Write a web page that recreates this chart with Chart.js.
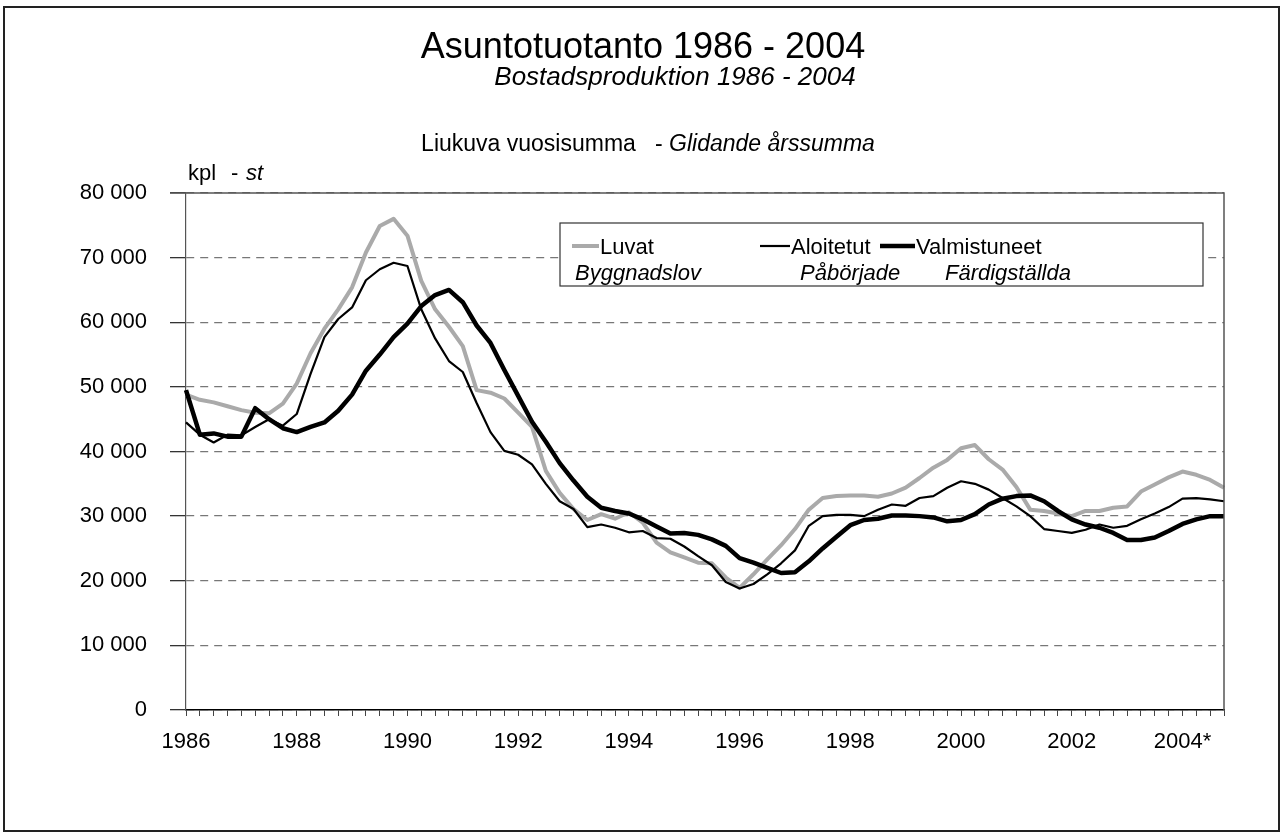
<!DOCTYPE html>
<html>
<head>
<meta charset="utf-8">
<script src="https://cdn.jsdelivr.net/npm/chart.js@4"></script>
<style>
  html, body { margin: 0; padding: 0; background: #fff; }
  canvas { display: block; }
</style>
</head>
<body>
<canvas id="housingChart" width="1284" height="837"></canvas>
<script>
// Quarterly moving annual sums, 1986 Q1 - 2004 Q4
var years = [1986, 1987, 1988, 1989, 1990, 1991, 1992, 1993, 1994, 1995,
             1996, 1997, 1998, 1999, 2000, 2001, 2002, 2003, 2004];
var tickLabels = ['1986', '1988', '1990', '1992', '1994', '1996', '1998', '2000', '2002', '2004*'];

var luvat = [
  48800, 48000, 47600, 47000, 46400, 46000, 45900, 47400,
  50500, 55200, 59000, 62000, 65400, 70800, 74900, 76000,
  73400, 66400, 62000, 59300, 56300, 49500, 49100, 48200,
  46000, 43800, 37000, 33600, 31100, 29400, 30300, 29600,
  30600, 29000, 25900, 24400, 23600, 22800, 22700, 20500,
  18900, 21000, 23300, 25500, 28000, 31000, 32800, 33100,
  33200, 33200, 33000, 33500, 34400, 35900, 37500, 38700,
  40500, 41000, 38800, 37200, 34500, 31000, 30800, 30400,
  30000, 30800, 30800, 31300, 31500, 33800, 34900, 36000,
  36900, 36400, 35600, 34400
];
var aloitetut = [
  44500, 42600, 41400, 42600, 42500, 43800, 45000, 44000,
  45800, 52000, 57700, 60500, 62300, 66500, 68200, 69200,
  68700, 62000, 57500, 54000, 52300, 47500, 43000, 40100,
  39500, 38000, 35000, 32300, 31100, 28300, 28700, 28200,
  27500, 27700, 26600, 26500, 25300, 23800, 22400, 19800,
  18800, 19500, 21000, 22700, 24700, 28500, 30000, 30200,
  30200, 30000, 31000, 31800, 31600, 32800, 33100, 34400,
  35400, 35000, 34100, 32800, 31500, 30000, 28000, 27700,
  27400, 27900, 28700, 28200, 28500, 29500, 30400, 31400,
  32700, 32800, 32600, 32300
];
var valmistuneet = [
  49500, 42600, 42800, 42300, 42300, 46700, 45000, 43600,
  43000, 43800, 44500, 46300, 48800, 52500, 55000, 57700,
  59800, 62500, 64200, 65000, 63100, 59500, 56800, 52600,
  48600, 44600, 41500, 38200, 35500, 33000, 31300, 30800,
  30400, 29500, 28400, 27300, 27400, 27100, 26400, 25400,
  23500, 22800, 22000, 21200, 21300, 23000, 25000, 26800,
  28600, 29400, 29600, 30100, 30100, 30000, 29800, 29200,
  29400, 30300, 31800, 32700, 33100, 33200, 32300, 30800,
  29500, 28700, 28200, 27400, 26300, 26300, 26700, 27700,
  28800, 29500, 30000, 30000
];

var seriesNames = ['Luvat', 'Aloitetut', 'Valmistuneet'];
var seriesNamesSv = ['Byggnadslov', 'Påbörjade', 'Färdigställda'];

// one category per quarter
var quarters = [];
years.forEach(function(y) {
  for (var q = 1; q <= 4; q++) quarters.push(y + ' Q' + q);
});

var FONT = '"Liberation Sans", Arial, sans-serif';

function spaced(v) {
  return String(v).replace(/\B(?=(\d{3})+(?!\d))/g, ' ');
}

// titles, frame and the two-line legend
var decorPlugin = {
  id: 'decor',
  afterDraw: function(chart) {
    var ctx = chart.ctx;
    var area = chart.chartArea;
    ctx.save();

    // outer frame
    ctx.strokeStyle = '#222';
    ctx.lineWidth = 2;
    ctx.strokeRect(4, 7, 1275, 824);

    // plot area top + right border
    ctx.strokeStyle = '#555';
    ctx.lineWidth = 1.5;
    ctx.beginPath();
    ctx.moveTo(area.left - 16, area.top);
    ctx.lineTo(area.right, area.top);
    ctx.lineTo(area.right, area.bottom);
    ctx.stroke();

    ctx.fillStyle = '#000';
    ctx.textBaseline = 'alphabetic';
    ctx.textAlign = 'center';
    ctx.font = '36px ' + FONT;
    ctx.fillText('Asuntotuotanto 1986 - 2004', 643, 58);
    ctx.font = 'italic 26px ' + FONT;
    ctx.fillText('Bostadsproduktion 1986 - 2004', 675, 85);

    // mixed normal / italic line
    ctx.textAlign = 'left';
    var a = 'Liukuva vuosisumma   - ', b = 'Glidande årssumma';
    ctx.font = '23px ' + FONT;
    var wa = ctx.measureText(a).width;
    ctx.font = 'italic 23px ' + FONT;
    var wb = ctx.measureText(b).width;
    var x0 = 648 - (wa + wb) / 2;
    ctx.font = '23px ' + FONT;
    ctx.fillText(a, x0, 151);
    ctx.font = 'italic 23px ' + FONT;
    ctx.fillText(b, x0 + wa, 151);

    // unit label
    ctx.font = '22px ' + FONT;
    ctx.fillText('kpl', 188, 180);
    ctx.fillText('-', 231, 180);
    ctx.font = 'italic 22px ' + FONT;
    ctx.fillText('st', 246, 180);

    // legend box
    ctx.fillStyle = '#fff';
    ctx.fillRect(560, 223, 643, 63);
    ctx.strokeStyle = '#333';
    ctx.lineWidth = 1.2;
    ctx.strokeRect(560, 223, 643, 63);

    var entries = [
      { x: 572, len: 27, sx: 575 },
      { x: 760, len: 30, sx: 800 },
      { x: 880, len: 35, sx: 945 }
    ];
    chart.data.datasets.forEach(function(ds, i) {
      var e = entries[i];
      ctx.strokeStyle = ds.borderColor;
      ctx.lineWidth = ds.borderWidth;
      ctx.beginPath();
      ctx.moveTo(e.x, 246);
      ctx.lineTo(e.x + e.len, 246);
      ctx.stroke();
      ctx.fillStyle = '#000';
      ctx.font = '22px ' + FONT;
      ctx.fillText(ds.label, e.x + e.len + 1, 254);
      ctx.font = 'italic 22px ' + FONT;
      ctx.fillText(seriesNamesSv[i], e.sx, 280);
    });

    ctx.restore();
  }
};

var ctx = document.getElementById('housingChart').getContext('2d');
var housingChart = new Chart(ctx, {
  type: 'line',
  data: {
    labels: quarters,
    datasets: [
      { label: seriesNames[0], data: luvat, borderColor: '#aaaaaa', borderWidth: 4, order: 3 },
      { label: seriesNames[1], data: aloitetut, borderColor: '#000000', borderWidth: 2.2, order: 2 },
      { label: seriesNames[2], data: valmistuneet, borderColor: '#000000', borderWidth: 4.5, order: 1 }
    ]
  },
  options: {
    responsive: false,
    animation: false,
    layout: { padding: { left: 0, top: 193, right: 60, bottom: 77 } },
    elements: { point: { radius: 0 }, line: { tension: 0, borderJoinStyle: 'round' } },
    plugins: {
      legend: { display: false },
      title: { display: false },
      tooltip: { enabled: false }
    },
    scales: {
      x: {
        grid: { drawOnChartArea: false, drawTicks: true, tickLength: 6, tickColor: '#444', tickWidth: 1 },
        border: { color: '#000', width: 1.5 },
        ticks: {
          autoSkip: false,
          maxRotation: 0,
          padding: 13,
          color: '#000',
          font: { family: FONT, size: 22 },
          callback: function(v, i) { return i % 8 === 0 ? tickLabels[i / 8] : ''; }
        },
        afterFit: function(s) { s.height = 50; }
      },
      y: {
        min: 0,
        max: 80000,
        grid: { color: '#777', lineWidth: 1.3, tickColor: '#333', tickLength: 16, tickBorderDash: [] },
        border: { color: '#555', width: 1.2, dash: [8, 6] },
        ticks: {
          stepSize: 10000,
          padding: 23,
          color: '#000',
          font: { family: FONT, size: 22 },
          callback: function(v) { return spaced(v); }
        },
        afterFit: function(s) { s.width = 186; }
      }
    }
  },
  plugins: [decorPlugin]
});
</script>
</body>
</html>
